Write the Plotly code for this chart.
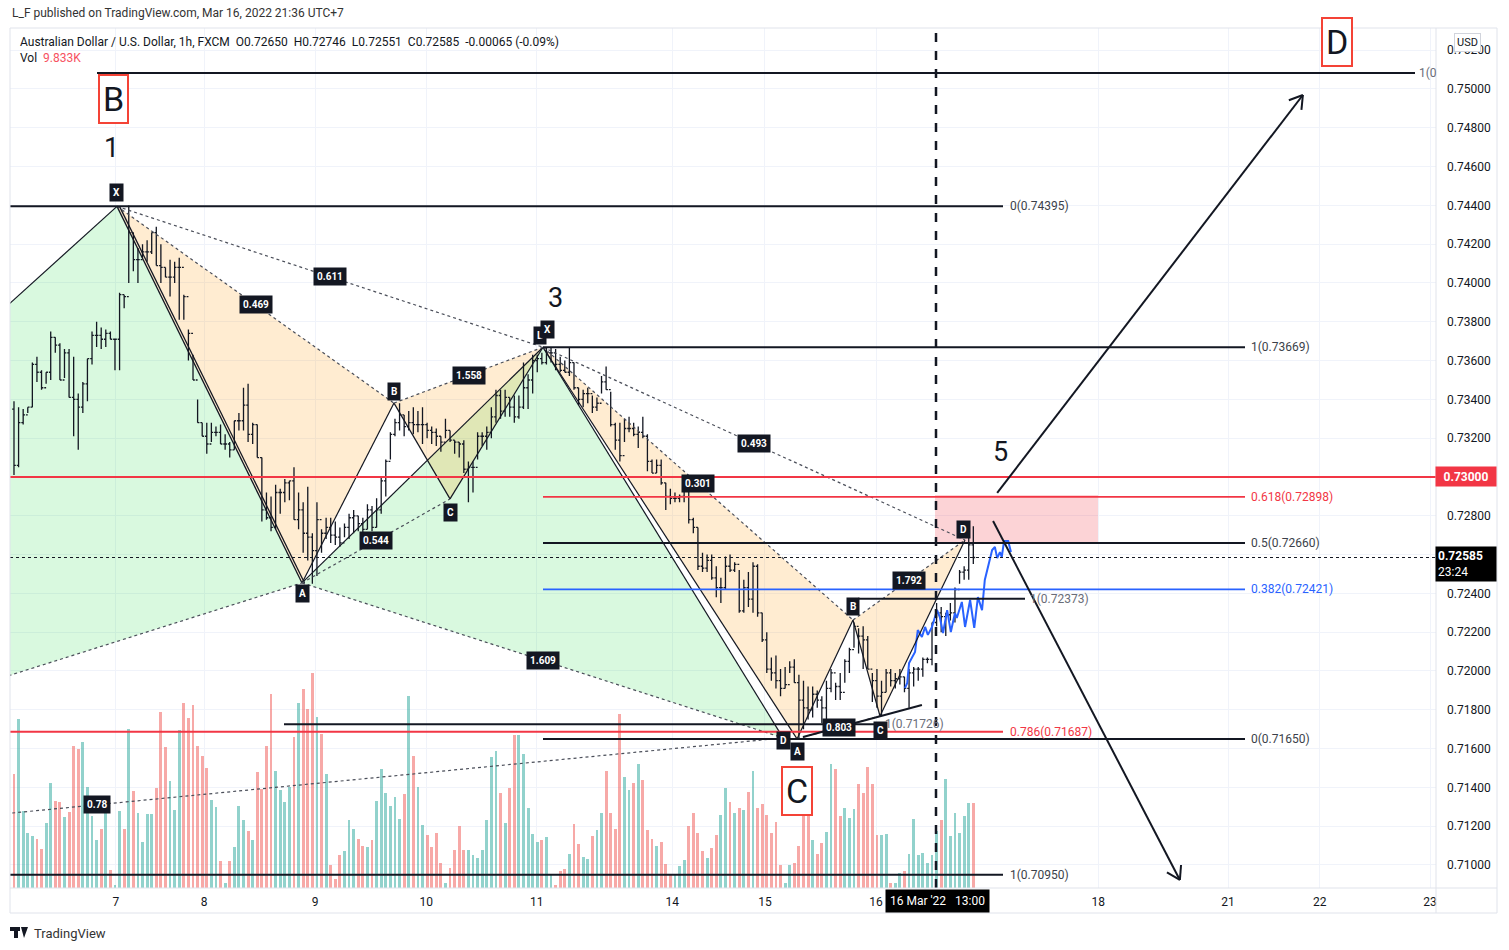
import math
import plotly.graph_objects as go

W, H = 1509, 950

# ---------------- data ----------------
bar_high = [
    0.7339, 0.7336, 0.7335, 0.7336, 0.7359, 0.7362, 0.7355, 0.7354, 0.7375, 0.7372,
    0.7369, 0.7366, 0.7366, 0.7362, 0.7343, 0.7349, 0.7361, 0.7375, 0.7380, 0.7377,
    0.7376, 0.7375, 0.7371, 0.7395, 0.7394, 0.7440, 0.7426, 0.7418, 0.7420, 0.7422,
    0.7426, 0.7429, 0.7420, 0.7408, 0.7412, 0.7411, 0.7413, 0.7394, 0.7376, 0.7363,
    0.7340, 0.7328, 0.7328, 0.7328, 0.7326, 0.7327, 0.7322, 0.7318, 0.7329, 0.7333,
    0.7346, 0.7348, 0.7328, 0.7327, 0.7310, 0.7292, 0.7290, 0.7296, 0.7294, 0.7299,
    0.7298, 0.7305, 0.7292, 0.7287, 0.7295, 0.7271, 0.7287, 0.7273, 0.7279,
    0.7279, 0.7277, 0.7274, 0.7276, 0.7281, 0.7283, 0.7280, 0.7279, 0.7286, 0.7285,
    0.7289, 0.7300, 0.7309, 0.7323, 0.7330, 0.7338, 0.7332, 0.7334, 0.7336, 0.7334,
    0.7336, 0.7328, 0.7326, 0.7325, 0.7321, 0.7330, 0.7324, 0.7319, 0.7318, 0.7319,
    0.7308, 0.7308, 0.7323, 0.7323, 0.7326, 0.7336, 0.7345, 0.7345, 0.7345, 0.7341,
    0.7342, 0.7342, 0.7359, 0.7353, 0.7363, 0.7363, 0.7364, 0.7367, 0.7367, 0.7366,
    0.7362, 0.7360, 0.7367, 0.7359, 0.7346, 0.7345, 0.7346, 0.7342, 0.7341, 0.7352,
    0.7357, 0.7344, 0.7328, 0.7328, 0.7330, 0.7331, 0.7328, 0.7326, 0.7331, 0.7322,
    0.7309, 0.7309, 0.7309, 0.7297, 0.7294, 0.7292, 0.7291, 0.7300, 0.7300, 0.7279,
    0.7274,
    0.7261, 0.7260, 0.7260, 0.7254, 0.7248, 0.7259, 0.7260, 0.7256, 0.7252, 0.7247,
    0.7251, 0.7256, 0.7255, 0.7230, 0.7220, 0.7207, 0.7208, 0.7201, 0.7202, 0.7205,
    0.7206, 0.7198, 0.7195, 0.7192, 0.7192, 0.7190, 0.7187, 0.7195, 0.7201, 0.7194,
    0.7199, 0.7206, 0.7212, 0.7225, 0.7222, 0.7223, 0.7218, 0.7199, 0.7201, 0.7195,
    0.7201, 0.7201, 0.7199, 0.7201, 0.7197, 0.7201, 0.7202, 0.7202, 0.7207, 0.7207,
    0.7225, 0.7235, 0.7233, 0.7230, 0.7235, 0.7243, 0.7252, 0.7254, 0.7269, 0.72746,
]
bar_low = [
    0.7301, 0.7305, 0.7327, 0.7333, 0.7336, 0.7349, 0.7345, 0.7348, 0.7350, 0.7364,
    0.7350, 0.7351, 0.7341, 0.7321, 0.7314, 0.7333, 0.7339, 0.7358, 0.7367, 0.7366,
    0.7367, 0.7371, 0.7355, 0.7355, 0.7387, 0.7400, 0.7406, 0.7400, 0.7413, 0.7411,
    0.7415, 0.7409, 0.7400, 0.7403, 0.7393, 0.7400, 0.7381, 0.7381, 0.7360, 0.7350,
    0.7328, 0.7321, 0.7312, 0.7318, 0.7321, 0.7317, 0.7314, 0.7310, 0.7314, 0.7324,
    0.7324, 0.7318, 0.7317, 0.7310, 0.7277, 0.7278, 0.7272, 0.7273, 0.7281, 0.7287,
    0.7288, 0.7278, 0.7273, 0.7261, 0.7257, 0.7245, 0.7249, 0.7261, 0.7268,
    0.7266, 0.7265, 0.7264, 0.7269, 0.7268, 0.7271, 0.7272, 0.7270, 0.7273, 0.7272,
    0.7274, 0.7281, 0.7290, 0.7309, 0.7321, 0.7324, 0.7321, 0.7324, 0.7322, 0.7323,
    0.7317, 0.7320, 0.7317, 0.7316, 0.7313, 0.7320, 0.7318, 0.7312, 0.7310, 0.7302,
    0.7287, 0.7292, 0.7309, 0.7316, 0.7314, 0.7320, 0.7328, 0.7330, 0.7331, 0.7331,
    0.7328, 0.7330, 0.7335, 0.7335, 0.7343, 0.7354, 0.7358, 0.7358, 0.7359, 0.7355,
    0.7354, 0.7354, 0.7352, 0.7345, 0.7337, 0.7336, 0.7338, 0.7333, 0.7334, 0.7343,
    0.7345, 0.7326, 0.7314, 0.7308, 0.7318, 0.7323, 0.7321, 0.7315, 0.7320, 0.7303,
    0.7302, 0.7302, 0.7296, 0.7283, 0.7286, 0.7287, 0.7287, 0.7287, 0.7276, 0.7271,
    0.7252,
    0.7251, 0.7251, 0.7247, 0.7238, 0.7235, 0.7242, 0.7251, 0.7251, 0.7230, 0.7230,
    0.7233, 0.7230, 0.7228, 0.7215, 0.7199, 0.7195, 0.7191, 0.7187, 0.7191, 0.7199,
    0.7194, 0.7165, 0.7170, 0.7175, 0.7176, 0.7181, 0.7173, 0.7175, 0.7189, 0.7185,
    0.7185, 0.7194, 0.7199, 0.7212, 0.7209, 0.7201, 0.7201, 0.7184, 0.7181, 0.7177,
    0.7189, 0.7192, 0.7191, 0.7193, 0.7189, 0.7181, 0.7192, 0.7195, 0.7197, 0.7204,
    0.7203, 0.7223, 0.7220, 0.7218, 0.7226, 0.7225, 0.7245, 0.7247, 0.7247, 0.72551,
]
bar_close = [
    0.7306, 0.7328, 0.7332, 0.7336, 0.7358, 0.7354, 0.7346, 0.7354, 0.7372, 0.7368,
    0.7350, 0.7364, 0.7341, 0.7340, 0.7336, 0.7348, 0.7361, 0.7373, 0.7373, 0.7371,
    0.7374, 0.7371, 0.7371, 0.7394, 0.7393, 0.7426, 0.7412, 0.7412, 0.7416, 0.7416,
    0.7426, 0.7409, 0.7408, 0.7403, 0.7403, 0.7408, 0.7408, 0.7393, 0.7374, 0.7350,
    0.7328, 0.7321, 0.7317, 0.7323, 0.7323, 0.7317, 0.7317, 0.7314, 0.7329, 0.7329,
    0.7337, 0.7322, 0.7327, 0.7310, 0.7283, 0.7279, 0.7274, 0.7292, 0.7292, 0.7297,
    0.7298, 0.7278, 0.7283, 0.7271, 0.7269, 0.7262, 0.7278, 0.7271, 0.7274,
    0.7270, 0.7269, 0.7266, 0.7274, 0.7279, 0.7280, 0.7276, 0.7273, 0.7283, 0.7274,
    0.7283, 0.7298, 0.7308, 0.7322, 0.7328, 0.7332, 0.7326, 0.7328, 0.7327, 0.7327,
    0.7327, 0.7324, 0.7323, 0.7321, 0.7318, 0.7324, 0.7319, 0.7318, 0.7317, 0.7304,
    0.7305, 0.7305, 0.7321, 0.7321, 0.7323, 0.7331, 0.7342, 0.7334, 0.7341, 0.7336,
    0.7331, 0.7336, 0.7346, 0.7350, 0.7360, 0.7361, 0.7359, 0.7364, 0.7364, 0.7358,
    0.7355, 0.7354, 0.7359, 0.7346, 0.7340, 0.7343, 0.7343, 0.7336, 0.7338, 0.7349,
    0.7345, 0.7327, 0.7319, 0.7311, 0.7325, 0.7325, 0.7322, 0.7323, 0.7321, 0.7308,
    0.7302, 0.7306, 0.7297, 0.7290, 0.7289, 0.7289, 0.7290, 0.7298, 0.7278, 0.7274,
    0.7254,
    0.7253, 0.7257, 0.7248, 0.7243, 0.7243, 0.7254, 0.7252, 0.7255, 0.7231, 0.7243,
    0.7237, 0.7254, 0.7230, 0.7216, 0.7201, 0.7199, 0.7195, 0.7191, 0.7193, 0.7202,
    0.7194, 0.7185, 0.7181, 0.7180, 0.7188, 0.7185, 0.7181, 0.7191, 0.7199, 0.7192,
    0.7189, 0.7205, 0.7211, 0.7223, 0.7218, 0.7216, 0.7201, 0.7195, 0.7187, 0.7189,
    0.7199, 0.7195, 0.7196, 0.7197, 0.7191, 0.7199, 0.7201, 0.7201, 0.7206, 0.7206,
    0.7225, 0.7230, 0.7228, 0.7229, 0.7230, 0.7242, 0.7251, 0.7252, 0.7265, 0.72585,
]
first_open = 0.7335

volume_k = [
    13.2, 19.6, 8.9, 6.4, 6.0, 5.7, 4.5, 7.5, 12.1, 10.1,
    10.0, 8.2, 8.8, 16.4, 16.1, 16.9, 11.7, 8.3, 5.6, 6.8,
    9.4, 2.1, 0.3, 8.9, 6.8, 18.4, 11.2, 8.7, 5.3, 8.6,
    8.6, 11.6, 20.4, 16.3, 12.4, 9.0, 18.3, 21.4, 19.7, 21.2,
    16.4, 15.3, 13.9, 10.2, 9.4, 3.1, 0.6, 3.1, 4.7, 9.5,
    7.9, 6.6, 5.6, 13.4, 11.5, 16.4, 22.4, 13.5, 11.3, 10.0,
    11.7, 17.5, 21.4, 23.0, 20.7, 24.9, 19.8, 17.8, 13.2, 2.7,
    1.0, 3.8, 4.3, 7.9, 6.8, 5.7, 4.9, 4.7, 5.6, 10.1,
    13.8, 11.0, 9.5, 10.5, 8.0, 10.9, 22.2, 15.3, 11.7, 7.3,
    6.1, 4.7, 6.4, 2.9, 0.6, 2.3, 4.4, 7.2, 4.4, 4.4,
    3.8, 3.5, 4.4, 7.9, 15.2, 15.9,
    11.0, 7.5, 11.6, 17.7, 17.7, 15.5, 9.3, 6.2, 5.3, 5.6,
    5.9, 1.5, 0.3, 2.0, 2.2, 3.9, 7.4, 5.1, 3.6, 3.4, 6.0,
    6.7, 8.7, 13.5, 8.7, 6.8, 20.1, 12.8, 11.3, 12.1, 14.3,
    12.5, 6.7, 5.7, 4.9, 5.3, 2.8, 1.5, 1.5, 2.5, 3.2, 7.2,
    8.7, 6.4, 4.3, 3.5, 4.6, 6.1, 8.4, 11.6, 10.0, 8.7,
    9.3, 9.0, 11.1, 13.5, 9.3, 9.7, 8.4, 6.4, 7.6, 2.7,
    0.6, 2.7, 2.9, 4.9, 10.6, 9.8, 5.6, 3.9, 5.2, 6.5,
    14.3, 13.8, 8.3, 9.3, 8.1, 9.1, 12.0, 11.0, 14.0, 12.0,
    6.1, 6.1, 6.2, 0.6, 0.6, 1.7, 2.0, 3.9, 8.0, 3.8,
    4.0, 2.9, 3.8, 6.6, 7.9, 12.6, 6.0, 8.7, 6.4, 8.3,
    9.8, 9.833,
]

day_labels = ["7", "8", "9", "10", "11", "14", "15", "16", "18", "21", "22", "23"]
day_start_slot = [22.2, 41.4, 65.6, 89.8, 113.9, 143.4, 163.6, 187.8, 236.2, 264.5, 284.5, 308.5]
price_ticks = [0.710, 0.712, 0.714, 0.716, 0.718, 0.720, 0.722, 0.724, 0.726, 0.728, 0.730,
               0.732, 0.734, 0.736, 0.738, 0.740, 0.742, 0.744, 0.746, 0.748, 0.750, 0.752]
tagged_prices = [0.730, 0.726]   # tick labels hidden under the price tags

# hand-drawn blue projection (slot, price)
proj_slot = [194.1, 194.6, 195.0, 196.3, 196.9, 197.8, 198.5, 199.1, 200.0, 201.1, 201.7, 202.4,
             203.3, 204.1, 205.0, 205.4, 206.5, 207.2, 208.3, 209.2, 210.0, 210.9, 211.5, 212.2,
             213.1, 213.7, 214.2, 214.8, 215.2, 215.7, 216.6, 217.2]
proj_price = [0.71912, 0.71938, 0.72041, 0.72098, 0.72211, 0.72175, 0.72227, 0.72186, 0.72227,
              0.72314, 0.72278, 0.72196, 0.72314, 0.72201, 0.72299, 0.72273, 0.72356, 0.72227,
              0.72366, 0.72222, 0.72381, 0.72314, 0.72469, 0.72536, 0.72624, 0.72639, 0.72582,
              0.72613, 0.72588, 0.72670, 0.72670, 0.72613]

# harmonic pattern anchor points (slot, price)
pts = {
    "X0": (-138.3, 0.70950), "PX": (22.44, 0.74395), "PA": (62.75, 0.72454),
    "PB": (82.79, 0.73381), "PC": (94.99, 0.72887), "PL": (115.25, 0.73669),
    "D0": (167.54, 0.71655), "A2": (170.59, 0.71650), "B2": (182.79, 0.72263),
    "C2": (188.67, 0.71768), "D2": (207.19, 0.72675),
}
last_price = 0.72585
# --------------------------------------------------------------

n = min(len(bar_high), len(bar_low), len(bar_close), len(volume_k))
bar_high, bar_low, bar_close, volume_k = bar_high[:n], bar_low[:n], bar_close[:n], volume_k[:n]
bar_open = [first_open] + bar_close[:-1]
slots = list(range(n))

# geometry
XD = (10, 1436)
YD = (28, 888)
XR = (-0.87, 309.8)
YR = (0.708814, 0.753144)


def to_px(s, p):
    x = XD[0] + (s - XR[0]) / (XR[1] - XR[0]) * (XD[1] - XD[0])
    y = YD[1] - (p - YR[0]) / (YR[1] - YR[0]) * (YD[1] - YD[0])
    return x, y


def to_data(x, y):
    s = XR[0] + (x - XD[0]) / (XD[1] - XD[0]) * (XR[1] - XR[0])
    p = YR[0] + (YD[1] - y) / (YD[1] - YD[0]) * (YR[1] - YR[0])
    return s, p


def px2slot(x):
    return to_data(x, 0)[0]


def P(x, y):
    return x / W, 1 - y / H


INK = "#131722"
RED = "#f23645"
BLUE = "#2962ff"
GRID = "#f0f3fa"
FONT = "Roboto"

fig = go.Figure()

vol_colors = ["rgba(38,166,154,0.5)" if c >= o else "rgba(239,83,80,0.5)"
              for o, c in zip(bar_open, bar_close)]
fig.add_trace(go.Bar(x=slots, y=volume_k, marker=dict(color=vol_colors, line=dict(width=0)),
                     width=0.62, yaxis="y2", hoverinfo="skip", showlegend=False))

fig.add_trace(go.Ohlc(x=slots, open=bar_open, high=bar_high, low=bar_low, close=bar_close,
                      increasing=dict(line=dict(color=INK, width=1.3)),
                      decreasing=dict(line=dict(color=INK, width=1.3)),
                      tickwidth=0.4, hoverinfo="skip", showlegend=False))

fig.add_trace(go.Scatter(x=proj_slot, y=proj_price, mode="lines",
                         line=dict(color=BLUE, width=2), hoverinfo="skip", showlegend=False))

shapes = []


def poly(keys, color):
    path = "M " + " L ".join(f"{pts[k][0]},{pts[k][1]}" for k in keys) + " Z"
    shapes.append(dict(type="path", path=path, xref="x", yref="y", fillcolor=color,
                       line=dict(width=0), layer="between"))


GREEN_F = "rgba(0,215,40,0.15)"
BEIGE_F = "rgba(255,152,0,0.18)"
poly(["X0", "PX", "PA"], GREEN_F)
poly(["PA", "PL", "D0"], GREEN_F)
poly(["PX", "PA", "PB"], BEIGE_F)
poly(["PB", "PC", "PL"], BEIGE_F)
poly(["PL", "A2", "B2"], BEIGE_F)
poly(["B2", "C2", "D2"], BEIGE_F)


def seg(a, b, color=INK, width=1, dash="solid", dx=0.0):
    shapes.append(dict(type="line", xref="x", yref="y", x0=a[0] + dx, y0=a[1], x1=b[0] + dx, y1=b[1],
                       line=dict(color=color, width=width, dash=dash), layer="above"))


for a, b in [("X0", "PX"), ("PA", "PL"), ("PL", "D0"), ("PA", "PB"), ("PB", "PC"), ("PC", "PL"),
             ("PL", "A2"), ("A2", "B2"), ("B2", "C2"), ("C2", "D2")]:
    seg(pts[a], pts[b], width=1.2)
seg(pts["PX"], pts["PA"], width=1.3)
seg(pts["PX"], pts["PA"], width=1.3, dx=0.55)

DOT = "#4a4e59"
for a, b in [("X0", "PA"), ("X0", "D0"), ("PX", "PL"), ("PA", "D0"), ("PX", "PB"), ("PA", "PC"),
             ("PB", "PL"), ("PL", "B2"), ("A2", "C2"), ("B2", "D2"), ("PL", "D2")]:
    seg(pts[a], pts[b], color=DOT, width=1.2, dash="dot")


def hline(p, s0, s1, color=INK, width=2, dash="solid"):
    shapes.append(dict(type="line", xref="x", yref="y", x0=s0, x1=s1, y0=p, y1=p,
                       line=dict(color=color, width=width, dash=dash), layer="above"))


# fibonacci / horizontal levels
fibA = [(0.74395, INK, "0(0.74395)"), (0.71687, RED, "0.786(0.71687)"), (0.70950, INK, "1(0.70950)")]
fibB = [(0.73669, INK, "1(0.73669)"), (0.72898, RED, "0.618(0.72898)"), (0.72660, INK, "0.5(0.72660)"),
        (0.72421, BLUE, "0.382(0.72421)"), (0.71650, INK, "0(0.71650)")]
sA0, sA1 = XR[0], px2slot(1003)
sB0, sB1 = pts["PL"][0], px2slot(1245)
for p, c, _ in fibA:
    hline(p, sA0, sA1, c, 2)
for p, c, _ in fibB:
    hline(p, sB0, sB1, c, 1.8 if c != INK else 2)
hline(0.72373, px2slot(858), px2slot(1025), INK, 2)
hline(0.71726, px2slot(284), px2slot(880), INK, 2)
hline(0.75082, px2slot(97), px2slot(1415), INK, 2)
hline(0.73000, XR[0], XR[1], RED, 2)
hline(last_price, XR[0], XR[1], INK, 1, "dot")

# pink zone
shapes.append(dict(type="rect", xref="x", yref="y", x0=px2slot(935), x1=px2slot(1098),
                   y0=0.72660, y1=0.72907, fillcolor="rgba(242,54,69,0.22)",
                   line=dict(width=0), layer="between"))
# vertical dashed line (16 Mar 13:00)
shapes.append(dict(type="line", xref="x", yref="paper", x0=px2slot(936), x1=px2slot(936),
                   y0=P(0, 888)[1], y1=P(0, 28)[1], line=dict(color=INK, width=2.5, dash="dash"),
                   layer="above"))
# rising support line
seg((171.9, 0.71660), (197.8, 0.71825), width=2)

# arrows
arrows = [((214.2, 0.72918), (280.8, 0.74969)), ((213.3, 0.72773), (254.0, 0.70923))]
for a, b in arrows:
    seg(a, b, width=2)
    x0, y0 = to_px(*a)
    x1, y1 = to_px(*b)
    ang = math.atan2(y1 - y0, x1 - x0)
    for sgn in (1, -1):
        t = ang + math.pi + sgn * math.radians(32)
        hx, hy = x1 + 15 * math.cos(t), y1 + 15 * math.sin(t)
        seg(b, to_data(hx, hy), width=2)

# frame
shapes.append(dict(type="rect", xref="paper", yref="paper", x0=P(10, 0)[0], x1=P(1497, 0)[0],
                   y0=P(0, 913)[1], y1=P(0, 28)[1], line=dict(color="#e0e3eb", width=1)))
shapes.append(dict(type="line", xref="paper", yref="paper", x0=P(1436, 0)[0], x1=P(1436, 0)[0],
                   y0=P(0, 913)[1], y1=P(0, 28)[1], line=dict(color="#e0e3eb", width=1)))
shapes.append(dict(type="line", xref="paper", yref="paper", x0=P(10, 0)[0], x1=P(1497, 0)[0],
                   y0=P(0, 888)[1], y1=P(0, 888)[1], line=dict(color="#e0e3eb", width=1)))
# logo glyph
shapes.append(dict(type="rect", xref="paper", yref="paper", x0=P(10, 0)[0], x1=P(20, 0)[0],
                   y0=P(0, 931)[1], y1=P(0, 927)[1], fillcolor=INK, line=dict(width=0)))
shapes.append(dict(type="rect", xref="paper", yref="paper", x0=P(14, 0)[0], x1=P(18, 0)[0],
                   y0=P(0, 938)[1], y1=P(0, 927)[1], fillcolor=INK, line=dict(width=0)))
shapes.append(dict(type="path", xref="paper", yref="paper",
                   path=f"M {P(21,0)[0]},{P(0,927)[1]} L {P(28,0)[0]},{P(0,927)[1]} L {P(24,0)[0]},{P(0,938)[1]} Z",
                   fillcolor=INK, line=dict(width=0)))

ann = []


def tag(text, s, p, xs=0, ys=0, size=10):
    ann.append(dict(x=s, y=p, xref="x", yref="y", text=f"<b>{text}</b>", showarrow=False,
                    font=dict(family=FONT, size=size, color="white"), bgcolor=INK,
                    borderpad=3, xshift=xs, yshift=ys))


# pattern point labels
tag("X", *pts["PX"], ys=14)
tag("A", *pts["PA"], ys=-11)
tag("B", *pts["PB"], ys=12)
tag("C", *pts["PC"], ys=-14)
tag("L", *pts["PL"], xs=-3, ys=12)
tag("X", *pts["PL"], xs=4, ys=18)
tag("B", *pts["B2"], ys=13)
tag("C", *pts["C2"], ys=-14)
tag("D", *pts["D2"], xs=-2, ys=11)
tag("D", *pts["D0"], ys=-3)
tag("A", *pts["A2"], ys=-13)

# ratio labels on the dotted legs
ratios = [("X0", "D0", "0.78", 0.511), ("PX", "PL", "0.611", 0.5), ("PA", "D0", "1.609", 0.5),
          ("PX", "PB", "0.469", 0.5), ("PA", "PC", "0.544", 0.5), ("PB", "PL", "1.558", 0.5),
          ("PL", "B2", "0.301", 0.5), ("A2", "C2", "0.803", 0.5), ("B2", "D2", "1.792", 0.5),
          ("PL", "D2", "0.493", 0.5)]
for a, b, t, f in ratios:
    s = pts[a][0] + f * (pts[b][0] - pts[a][0])
    p = pts[a][1] + f * (pts[b][1] - pts[a][1])
    tag(t, s, p)


def label(text, s, p, color=INK, size=12, xanchor="left"):
    ann.append(dict(x=s, y=p, xref="x", yref="y", text=text, showarrow=False, xanchor=xanchor,
                    font=dict(family=FONT, size=size, color=color)))


for p, c, t in fibA:
    label(t, px2slot(1008), p, "#3b3f4a" if c == INK else c)
for p, c, t in fibB:
    label(t, px2slot(1249), p, "#3b3f4a" if c == INK else c)
label("1(0.72373)", px2slot(1028), 0.72373, "#6a6d78")
label("1(0.71726)", px2slot(883), 0.71726, "#6a6d78")
label("1(0", px2slot(1417), 0.75082, "#6a6d78")

# wave numbers
for t, s, p in [("1", px2slot(111), 0.74696), ("3", px2slot(555), 0.73923), ("5", px2slot(1000), 0.73129)]:
    ann.append(dict(x=s, y=p, xref="x", yref="y", text=t, showarrow=False,
                    font=dict(family=FONT, size=27, color=INK)))
# boxed letters
for t, s, p in [("B", px2slot(113), 0.74948), ("C", px2slot(797), 0.71381), ("D", px2slot(1337), 0.75242)]:
    ann.append(dict(x=s, y=p, xref="x", yref="y", text=t, showarrow=False,
                    font=dict(family=FONT, size=34, color=INK), bgcolor="white",
                    bordercolor="#f44336", borderwidth=2, borderpad=3))


def ptext(text, x, y, size=12, color=INK, xanchor="left", **kw):
    px, py = P(x, y)
    d = dict(x=px, y=py, xref="paper", yref="paper", text=text, showarrow=False, xanchor=xanchor,
             yanchor="middle", font=dict(family=FONT, size=size, color=color))
    d.update(kw)
    ann.append(d)


ptext("L_F published on TradingView.com, Mar 16, 2022 21:36 UTC+7", 10, 13, 12, "#333333")
ptext("Australian Dollar / U.S. Dollar, 1h, FXCM&nbsp;&nbsp;O0.72650&nbsp;&nbsp;H0.72746&nbsp;&nbsp;"
      "L0.72551&nbsp;&nbsp;C0.72585&nbsp;&nbsp;-0.00065 (-0.09%)", 18, 42, 12, INK)
ptext("Vol&nbsp;&nbsp;<span style='color:#f7525f'>9.833K</span>", 18, 58, 12, INK)
ptext("TradingView", 32, 933, 13, "#333333")
ptext("USD", 1467, 42, 11, INK, xanchor="center", bgcolor="white", bordercolor="#d1d4dc",
      borderwidth=1, borderpad=2)
# axis price tags
px_tag, _ = P(1466, 0)
ann.append(dict(x=px_tag, y=0.73, xref="paper", yref="y", text="<b>0.73000</b>", showarrow=False,
                xanchor="center", yanchor="middle",
                font=dict(family=FONT, size=12, color="white"), bgcolor=RED, width=56, height=15,
                borderpad=2))
ptext("<b>0.72585</b><br>23:24", 1466, 564, 12, "white", xanchor="center", bgcolor="#000000",
      width=56, borderpad=2, align="left")
ptext("16 Mar '22&nbsp;&nbsp;&nbsp;13:00", 937, 901, 12, "white", xanchor="center",
      bgcolor="#000000", borderpad=4)

tick_text = ["" if any(abs(v - t) < 1e-9 for t in tagged_prices) else f"{v:.5f}" for v in price_ticks]

fig.update_layout(
    width=W, height=H, margin=dict(l=0, r=0, t=0, b=0),
    paper_bgcolor="white", plot_bgcolor="white", showlegend=False, bargap=0,
    font=dict(family=FONT, size=12, color=INK),
    xaxis=dict(domain=[XD[0] / W, XD[1] / W], range=list(XR), tickvals=day_start_slot,
               ticktext=day_labels, showgrid=True, gridcolor=GRID, zeroline=False, showline=False,
               ticks="", tickfont=dict(size=12, color=INK), rangeslider=dict(visible=False),
               fixedrange=True, ticklabelstandoff=5),
    yaxis=dict(domain=[1 - YD[1] / H, 1 - YD[0] / H], range=list(YR), side="right",
               tickvals=price_ticks, ticktext=tick_text, showgrid=True,
               gridcolor=GRID, zeroline=False, showline=False, ticks="",
               tickfont=dict(size=12, color=INK), ticklabelstandoff=10),
    yaxis2=dict(domain=[1 - YD[1] / H, 1 - YD[0] / H], range=[0, 99.5], overlaying="y",
                visible=False),
    shapes=shapes, annotations=ann,
)

fig.write_html("out.html", config={"displayModeBar": False},
               post_script="document.body.style.margin='0px';document.body.style.overflow='hidden';")
